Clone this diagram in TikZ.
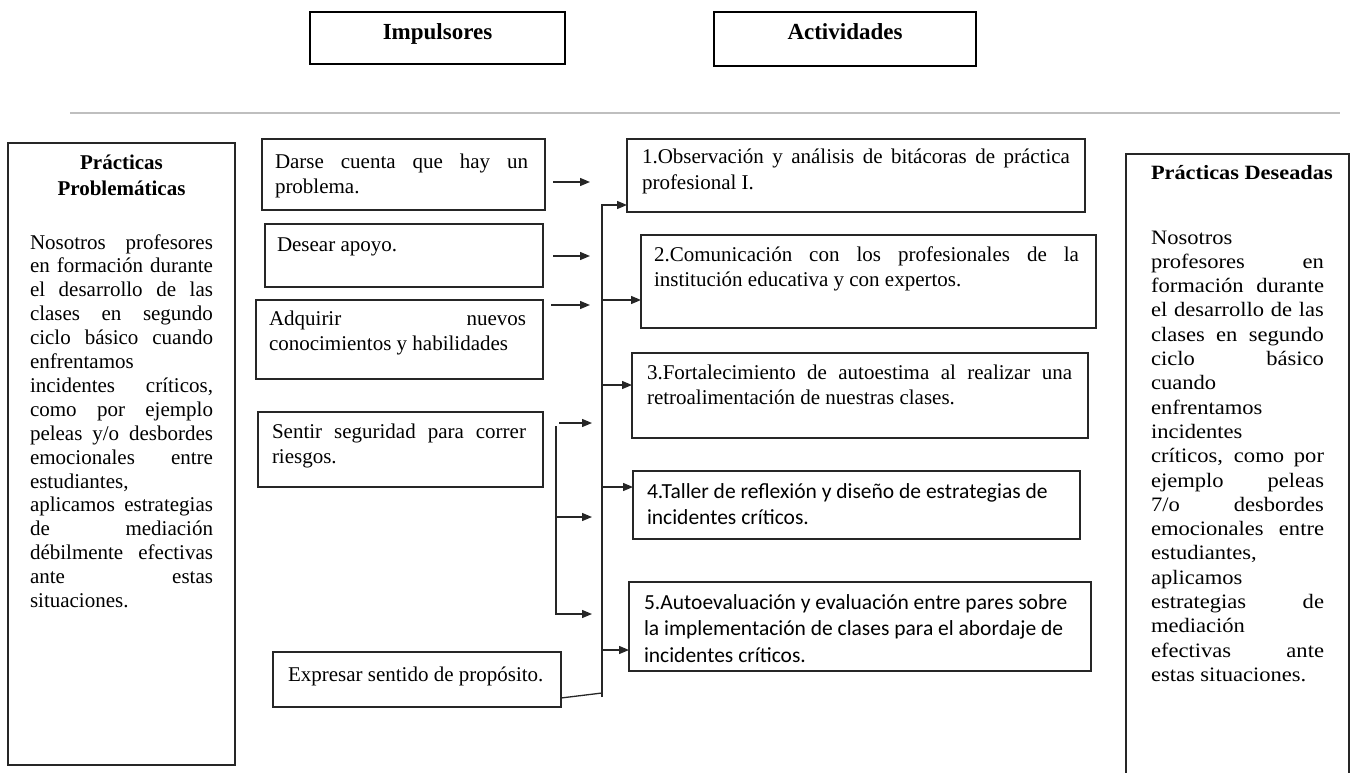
\documentclass[tikz,border=0pt]{standalone}
\usepackage{fontspec}
\setmainfont{Liberation Serif}
\newfontfamily\calib{Carlito}
\newfontfamily\wideserif[FakeStretch=1.10]{Liberation Serif}
\usetikzlibrary{arrows.meta}
\newcommand{\js}[1]{\makebox[\linewidth][s]{#1}}
\newcommand{\blk}[2]{\begin{minipage}[t]{#1}#2\end{minipage}}
\definecolor{rulegray}{HTML}{BFBFBF}
\definecolor{linegray}{HTML}{262626}
\tikzset{
  box/.style={draw=linegray, line width=1.3pt, inner sep=0pt, outer sep=0pt, anchor=north west},
  hdrbox/.style={box, draw=black, line width=1.6pt},
  txt/.style={inner sep=0pt, outer sep=0pt, anchor=base west, font=\fontsize{21}{25.5}\selectfont},
  ctxt/.style={txt, font=\calib\fontsize{21.5}{26.5}\selectfont},
  hdrtxt/.style={inner sep=0pt, outer sep=0pt, anchor=base, font=\bfseries\fontsize{23}{27}\selectfont},
  conn/.style={draw=linegray, line width=1.3pt},
  arr/.style={draw=linegray, line width=1.3pt, -{Triangle[length=10pt,width=8pt]}},
  rulestyle/.style={draw=rulegray, line width=2pt}
}
\begin{document}
\begin{tikzpicture}[x=1pt,y=-1pt]
\useasboundingbox (0,0) rectangle (1357,773);
\fill[white] (0,0) rectangle (1357,773);

% header boxes
\node[hdrbox, minimum width=255pt, minimum height=52pt] (hi) at (310,12) {};
\node[hdrbox, minimum width=262pt, minimum height=54pt] (ha) at (714,12) {};
\node[hdrtxt] (hit) at (437.5,40) {Impulsores};
\node[hdrtxt] (hat) at (845,40) {Actividades};

% horizontal rule
\coordinate (g1) at (70,113);
\coordinate (g2) at (1340,113);
\draw[rulestyle] (g1) -- (g2);

% left box
\node[box, minimum width=227pt, minimum height=622pt] (lb) at (8,143) {};
\node[inner sep=0pt, outer sep=0pt, anchor=base, font=\bfseries\fontsize{21}{26}\selectfont] (lh) at (121.5,169)
  {\blk{227pt}{\centering Prácticas\\Problemáticas}};
\node[txt, font=\fontsize{21}{23.9}\selectfont] (lt) at (30,249) {\blk{183pt}{%
\js{Nosotros profesores}\\
\js{en formación durante}\\
\js{el desarrollo de las}\\
\js{clases en segundo}\\
\js{ciclo básico cuando}\\
enfrentamos\\
\js{incidentes críticos,}\\
\js{como por ejemplo}\\
\js{peleas y/o desbordes}\\
\js{emocionales entre}\\
estudiantes,\\
\js{aplicamos estrategias}\\
\js{de mediación}\\
\js{débilmente efectivas}\\
\js{ante estas}\\
situaciones.}};

% impulsores boxes
\node[box, minimum width=283pt, minimum height=71pt] (d1) at (262,139) {};
\node[box, minimum width=278pt, minimum height=63pt] (d2) at (265,224) {};
\node[box, minimum width=287pt, minimum height=79pt] (d3) at (256,300) {};
\node[box, minimum width=285pt, minimum height=75pt] (d4) at (258,412) {};
\node[box, minimum width=288pt, minimum height=55pt] (d5) at (273,652) {};
\node[txt] (d1t) at (275,168) {\blk{253pt}{\js{Darse cuenta que hay un}\\problema.}};
\node[txt] (d2t) at (277,251) {Desear apoyo.};
\node[txt] (d3t) at (269,325) {\blk{257pt}{\js{Adquirir nuevos}\\conocimientos y habilidades}};
\node[txt] (d4t) at (272,438) {\blk{254pt}{\js{Sentir seguridad para correr}\\riesgos.}};
\node[txt] (d5t) at (288,681) {Expresar sentido de propósito.};

% actividades boxes
\node[box, minimum width=458pt, minimum height=73pt] (a1) at (627,139) {};
\node[box, minimum width=455pt, minimum height=93pt] (a2) at (641,235) {};
\node[box, minimum width=456pt, minimum height=85pt] (a3) at (632,353) {};
\node[box, minimum width=447pt, minimum height=68pt] (a4) at (633,471) {};
\node[box, minimum width=462pt, minimum height=89pt] (a5) at (629,582) {};
\node[txt] (a1t) at (642,164) {\blk{428pt}{\js{1.Observación y análisis de bitácoras de práctica}\\profesional I.}};
\node[txt] (a2t) at (654,261) {\blk{425pt}{\js{2.Comunicación con los profesionales de la}\\institución educativa y con expertos.}};
\node[txt] (a3t) at (647,379) {\blk{425pt}{\js{3.Fortalecimiento de autoestima al realizar una}\\retroalimentación de nuestras clases.}};
\node[ctxt] (a4t) at (647,498) {\blk{430pt}{4.Taller de reflexión y diseño de estrategias de\\incidentes críticos.}};
\node[ctxt] (a5t) at (644,609) {\blk{440pt}{5.Autoevaluación y evaluación entre pares sobre\\la implementación de clases para el abordaje de\\incidentes críticos.}};

% right box
\node[box, minimum width=223pt, minimum height=630pt] (rb) at (1126,154) {};
\node[txt, font=\wideserif\bfseries\fontsize{20.3}{24}\selectfont] (rh) at (1151,179) {Prácticas Deseadas};
\node[txt, font=\wideserif\fontsize{20.5}{24.3}\selectfont] (rt) at (1151,244) {\blk{173pt}{%
Nosotros\\
\js{profesores en}\\
\js{formación durante}\\
\js{el desarrollo de las}\\
\js{clases en segundo}\\
\js{ciclo básico}\\
cuando\\
enfrentamos\\
incidentes\\
\js{críticos, como por}\\
\js{ejemplo peleas}\\
\js{7/o desbordes}\\
\js{emocionales entre}\\
estudiantes,\\
aplicamos\\
\js{estrategias de}\\
mediación\\
\js{efectivas ante}\\
estas situaciones.}};

% arrows from impulsores
\coordinate (i1a) at (553,182); \coordinate (i1b) at (590,182);
\coordinate (i2a) at (553,256); \coordinate (i2b) at (590,256);
\coordinate (i3a) at (551,305); \coordinate (i3b) at (590,305);
\draw[arr] (i1a) -- (i1b);
\draw[arr] (i2a) -- (i2b);
\draw[arr] (i3a) -- (i3b);

% bracket from "Sentir seguridad"
\coordinate (k0) at (559,423); \coordinate (k0e) at (592,423);
\coordinate (kt) at (556,426); \coordinate (km) at (556,517);
\coordinate (kme) at (592,517); \coordinate (kb) at (556,614);
\coordinate (kbe) at (592,614);
\draw[arr] (k0) -- (k0e);
\draw[arr] (kt) -- (kb) -- (kbe);
\draw[arr] (km) -- (kme);

% bus to actividades
\coordinate (bt) at (602,205);
\coordinate (bb) at (602,697);
\coordinate (b2) at (602,300);
\coordinate (b3) at (602,385);
\coordinate (b4) at (602,487);
\coordinate (b6) at (602,650);
\draw[arr] (bb) -- (bt) -- (a1.west |- bt);
\draw[arr] (b2) -- (a2.west |- b2);
\draw[arr] (b3) -- (a3.west |- b3);
\draw[arr] (b4) -- (a4.west |- b4);
\draw[arr] (b6) -- (a5.west |- b6);

% expresar sentido de propósito to bus
\coordinate (d5o) at (561,698);
\coordinate (b5) at (602,693);
\draw[conn] (d5o) -- (b5);
\end{tikzpicture}
\end{document}
